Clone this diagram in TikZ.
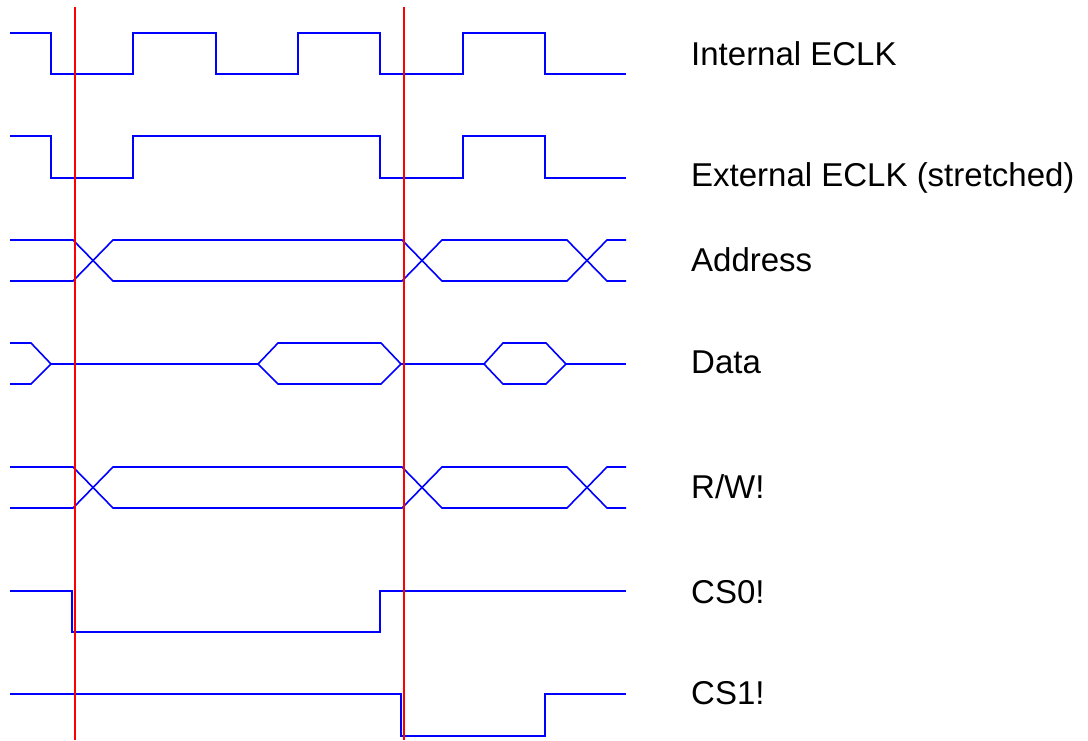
\documentclass[tikz,border=0pt]{standalone}
\usepackage{fontspec}
\setmainfont{Liberation Sans}
\begin{document}
\begin{tikzpicture}[x=1pt,y=-1pt,
  sig/.style={draw={rgb,255:red,0;green,0;blue,255}, line width=1.6pt, line join=miter},
  marker/.style={draw={rgb,255:red,255;green,0;blue,0}, line width=1.6pt},
  lbl/.style={anchor=base west, inner sep=0pt, font=\fontsize{33}{36}\selectfont}]
\useasboundingbox (0,0) rectangle (1088,740);
% Internal ECLK
\draw[sig] (10,33) -- (51,33) -- (51,74) -- (133,74) -- (133,33) -- (216,33) -- (216,74) -- (298,74) -- (298,33) -- (380,33) -- (380,74) -- (463,74) -- (463,33) -- (545,33) -- (545,74) -- (626,74);
% External ECLK
\draw[sig] (10,136) -- (51,136) -- (51,178) -- (133,178) -- (133,136) -- (380,136) -- (380,178) -- (463,178) -- (463,136) -- (545,136) -- (545,178) -- (626,178);
% Address
\draw[sig] (10,240) -- (73,240) -- (113,281) -- (402,281) -- (442,240) -- (567,240) -- (607,281) -- (626,281);
\draw[sig] (10,281) -- (73,281) -- (113,240) -- (402,240) -- (442,281) -- (567,281) -- (607,240) -- (626,240);
% Data
\draw[sig] (10,343) -- (31,343) -- (51,364) -- (31,384) -- (10,384);
\draw[sig] (51,364) -- (258,364);
\draw[sig] (401,364) -- (381,343) -- (278,343) -- (258,364) -- (278,384) -- (381,384) -- cycle;
\draw[sig] (401,364) -- (484,364);
\draw[sig] (566,364) -- (546,343) -- (503,343) -- (484,364) -- (503,384) -- (546,384) -- cycle;
\draw[sig] (566,364) -- (626,364);
% R/W!
\draw[sig] (10,467) -- (73,467) -- (113,508) -- (402,508) -- (442,467) -- (567,467) -- (607,508) -- (626,508);
\draw[sig] (10,508) -- (73,508) -- (113,467) -- (402,467) -- (442,508) -- (567,508) -- (607,467) -- (626,467);
% CS0!
\draw[sig] (10,591) -- (72,591) -- (72,632) -- (380,632) -- (380,591) -- (626,591);
% CS1!
\draw[sig] (10,694) -- (401,694) -- (401,736) -- (545,736) -- (545,694) -- (626,694);
% red markers
\coordinate (m1t) at (75,7); \coordinate (m1b) at (75,740);
\coordinate (m2t) at (404,7); \coordinate (m2b) at (404,740);
\draw[marker] (m1t) -- (m1b);
\draw[marker] (m2t) -- (m2b);
% labels
\node[lbl] (l1) at (691,65) {Internal ECLK};
\node[lbl] (l2) at (691,186) {External ECLK (stretched)};
\node[lbl] (l3) at (691,271) {Address};
\node[lbl] (l4) at (691,373) {Data};
\node[lbl] (l5) at (691,498) {R/W!};
\node[lbl] (l6) at (691,603) {CS0!};
\node[lbl] (l7) at (691,704) {CS1!};
\end{tikzpicture}
\end{document}
